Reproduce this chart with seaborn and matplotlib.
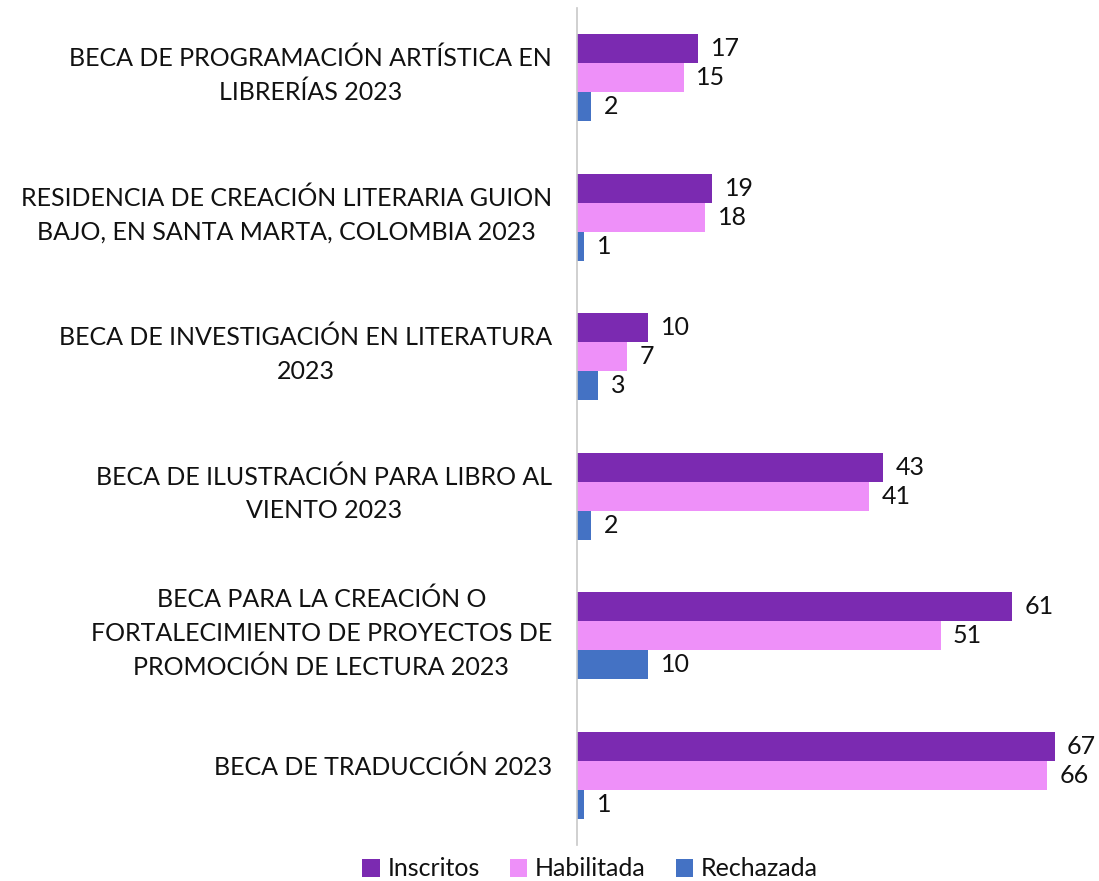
import numpy as np
import pandas as pd
import seaborn as sns
import matplotlib.pyplot as plt
from matplotlib.transforms import ScaledTranslation

#%% Datos
becas = ['BECA DE PROGRAMACIÓN ARTÍSTICA EN\nLIBRERÍAS 2023',
         'RESIDENCIA DE CREACIÓN LITERARIA GUION\nBAJO, EN SANTA MARTA, COLOMBIA 2023',
         'BECA DE INVESTIGACIÓN EN LITERATURA\n2023',
         'BECA DE ILUSTRACIÓN PARA LIBRO AL\nVIENTO 2023',
         'BECA PARA LA CREACIÓN O\nFORTALECIMIENTO DE PROYECTOS DE\nPROMOCIÓN DE LECTURA 2023',
         'BECA DE TRADUCCIÓN 2023']
inscritos = [17, 19, 10, 43, 61, 67]
habilitada = [15, 18, 7, 41, 51, 66]
rechazada = [2, 1, 3, 2, 10, 1]
series = ['Inscritos', 'Habilitada', 'Rechazada']
colores = ['#7B2AB1', '#EE90F9', '#4472C4']

df = pd.DataFrame({'Beca': becas * 3,
                   'Serie': np.repeat(series, len(becas)),
                   'Valor': inscritos + habilitada + rechazada})

#%% Grafico
sns.set_theme(style='white')
plt.rcParams['font.family'] = ['Lato', 'DejaVu Sans']

fig = plt.figure(figsize=(10.99, 8.81), dpi=100)
ax = fig.add_axes([0.525, 0.041, 0.467, 0.95])

sns.barplot(data=df, y='Beca', x='Valor', hue='Serie', hue_order=series,
            palette=colores, orient='h', width=0.625, saturation=1,
            linewidth=0, ax=ax, legend=True)

for cont in ax.containers:
    ax.bar_label(cont, padding=9, fontsize=18, color='#111111')

ax.set_xlim(0, 72)
ax.set_ylim(5.5, -0.5)
ax.set_xlabel('')
ax.set_ylabel('')
ax.set_xticks([])
for s in ['top', 'right', 'bottom']:
    ax.spines[s].set_visible(False)
ax.spines['left'].set_color('#C8C8C8')
ax.spines['left'].set_linewidth(1.2)
ax.tick_params(axis='y', length=0, pad=18, labelsize=18, labelcolor='#111111')
subir = ScaledTranslation(0, 7 / 72, fig.dpi_scale_trans)
for t in ax.get_yticklabels():
    t.set_multialignment('center')
    t.set_linespacing(1.55)
    t.set_transform(t.get_transform() + subir)

h, l = ax.get_legend_handles_labels()
ax.legend(h, l, loc='center', bbox_to_anchor=(590 / 1099, 12 / 881),
          bbox_transform=fig.transFigure, ncol=3, frameon=False, fontsize=18,
          handlelength=0.7, handleheight=0.7, handletextpad=0.3, columnspacing=1.2,
          labelcolor='#111111')

fig.savefig('out.png', dpi=100)
